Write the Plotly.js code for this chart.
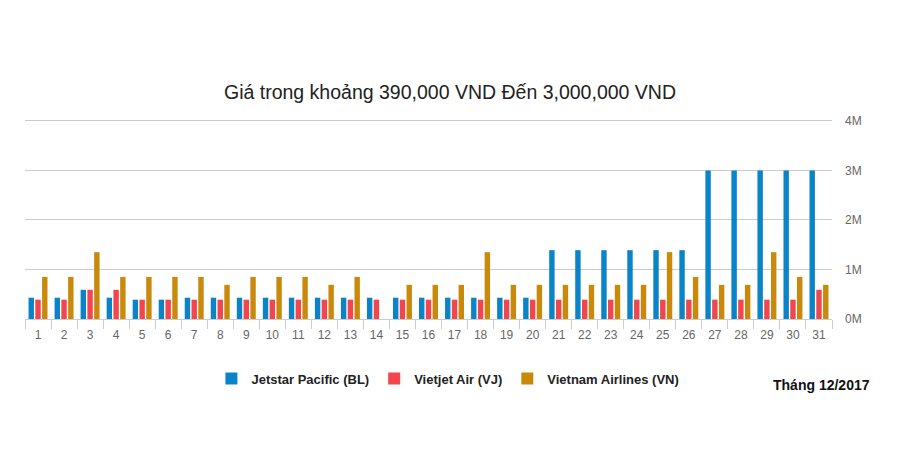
<!DOCTYPE html>
<html>
<head>
<meta charset="utf-8">
<script src="https://cdn.plot.ly/plotly-3.0.1.min.js"></script>
<style>html,body{margin:0;padding:0;background:#fff;}#chart{width:900px;height:471px;}</style>
</head>
<body>
<div id="chart"></div>
<script>
const days = ["1","2","3","4","5","6","7","8","9","10","11","12","13","14","15","16","17","18","19","20","21","22","23","24","25","26","27","28","29","30","31"];
const jetstar = [430000,430000,590000,430000,390000,390000,430000,430000,430000,430000,430000,430000,430000,430000,430000,430000,430000,430000,430000,430000,1390000,1390000,1390000,1390000,1390000,1390000,3000000,3000000,3000000,3000000,3000000];
const vietjet = [390000,390000,590000,590000,390000,390000,390000,390000,390000,390000,390000,390000,390000,390000,390000,390000,390000,390000,390000,390000,390000,390000,390000,390000,390000,390000,390000,390000,390000,390000,590000];
const vietnamAir = [850000,850000,1350000,850000,850000,850000,850000,690000,850000,850000,850000,690000,850000,null,690000,690000,690000,1350000,690000,690000,690000,690000,690000,690000,1350000,850000,690000,690000,1350000,850000,690000];
const seriesNames = ["Jetstar Pacific (BL)","Vietjet Air (VJ)","Vietnam Airlines (VN)"];
const yTickVals = [0,1000000,2000000,3000000,4000000];
const yTickText = ["0M","1M","2M","3M","4M"];
const titleText = "Giá trong khoảng 390,000 VND Đến 3,000,000 VND";
const noteText = "Tháng 12/2017";

const colors = ["#0a84c8","#f2454d","#c98a0c"];
const data = [jetstar, vietjet, vietnamAir].map((v,i)=>({
  type:"bar", x:days, y:v, name:seriesNames[i],
  marker:{color:colors[i]}, hoverinfo:"x+y+name"
}));

const layout = {
  width:900, height:471,
  margin:{l:25, r:68, t:117, b:152, pad:0},
  paper_bgcolor:"#fff", plot_bgcolor:"#fff",
  font:{family:"Liberation Sans, Arial, sans-serif", color:"#666", size:12},
  title:{text:titleText, x:0.5, xanchor:"center", y:0.805, yanchor:"middle",
         font:{size:19.5, color:"#222", family:"Liberation Sans, Arial, sans-serif"}},
  barmode:"group", bargap:0.22, bargroupgap:0.2,
  xaxis:{type:"category", tickson:"boundaries", ticks:"outside", ticklen:9, tickcolor:"#ccc",
         showline:true, linecolor:"#ccc", linewidth:1, showgrid:false, zeroline:false,
         ticklabelstandoff:5, tickfont:{size:12, color:"#666"}, fixedrange:true},
  yaxis:{side:"right", range:[0,4080000], tickvals:yTickVals, ticktext:yTickText,
         showgrid:true, gridcolor:"#ccc", zeroline:false, ticks:"", ticklabelstandoff:12,
         tickfont:{size:12, color:"#666"}, fixedrange:true},
  legend:{orientation:"h", x:0.231, xanchor:"left", y:-0.295, yanchor:"middle",
          font:{size:13, color:"#222", family:"Liberation Sans, Arial, sans-serif", weight:"bold"},
          itemwidth:30, traceorder:"normal"},
  annotations:[{text:"<b>"+noteText+"</b>", xref:"paper", yref:"paper", x:1.05, y:-0.325,
                xanchor:"right", yanchor:"middle", showarrow:false,
                font:{size:14, color:"#111", family:"Liberation Sans, Arial, sans-serif"}}]
};
Plotly.newPlot("chart", data, layout, {displayModeBar:false, staticPlot:true});
</script>
</body>
</html>
